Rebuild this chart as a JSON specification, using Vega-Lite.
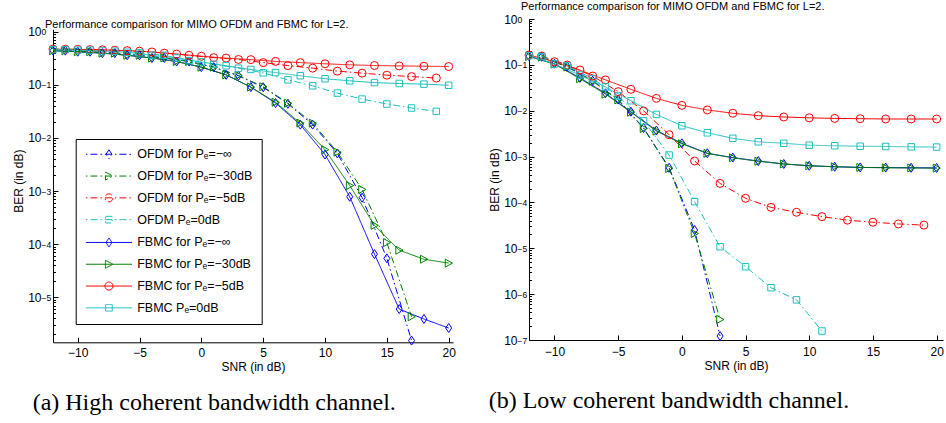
{
  "$schema": "https://vega.github.io/schema/vega-lite/v6.json",
  "background": "white",
  "padding": {"left": 12, "top": 0, "right": 0, "bottom": 0},
  "config": {
    "view": {"stroke": null},
    "font": "Liberation Sans",
    "axis": {"grid": false, "domainColor": "black", "domainWidth": 1, "tickColor": "black", "tickWidth": 1, "labelColor": "black", "titleColor": "black", "labelFont": "Liberation Sans", "titleFont": "Liberation Sans", "labelFontSize": 12, "titleFontSize": 12, "titleFontWeight": "normal", "labelOverlap": false, "labelFlush": false}
  },
  "datasets": {
    "left": [
      {"s":"OFDM for Pₑ=−∞","x":-11,"y":0.44},{"s":"OFDM for Pₑ=−∞","x":-9,"y":0.42},{"s":"OFDM for Pₑ=−∞","x":-7,"y":0.395},{"s":"OFDM for Pₑ=−∞","x":-5,"y":0.36},{"s":"OFDM for Pₑ=−∞","x":-3,"y":0.32},{"s":"OFDM for Pₑ=−∞","x":-1,"y":0.275},{"s":"OFDM for Pₑ=−∞","x":1,"y":0.215},{"s":"OFDM for Pₑ=−∞","x":3,"y":0.148},{"s":"OFDM for Pₑ=−∞","x":5,"y":0.09},{"s":"OFDM for Pₑ=−∞","x":7,"y":0.044},{"s":"OFDM for Pₑ=−∞","x":9,"y":0.0178},{"s":"OFDM for Pₑ=−∞","x":11,"y":0.0051},{"s":"OFDM for Pₑ=−∞","x":13,"y":0.00075},{"s":"OFDM for Pₑ=−∞","x":15,"y":0.000054},{"s":"OFDM for Pₑ=−∞","x":17,"y":0.00000153},
      {"s":"OFDM for Pₑ=−30dB","x":-11,"y":0.44},{"s":"OFDM for Pₑ=−30dB","x":-9,"y":0.42},{"s":"OFDM for Pₑ=−30dB","x":-7,"y":0.395},{"s":"OFDM for Pₑ=−30dB","x":-5,"y":0.36},{"s":"OFDM for Pₑ=−30dB","x":-3,"y":0.32},{"s":"OFDM for Pₑ=−30dB","x":-1,"y":0.275},{"s":"OFDM for Pₑ=−30dB","x":1,"y":0.215},{"s":"OFDM for Pₑ=−30dB","x":3,"y":0.15},{"s":"OFDM for Pₑ=−30dB","x":5,"y":0.092},{"s":"OFDM for Pₑ=−30dB","x":7,"y":0.045},{"s":"OFDM for Pₑ=−30dB","x":9,"y":0.019},{"s":"OFDM for Pₑ=−30dB","x":11,"y":0.0054},{"s":"OFDM for Pₑ=−30dB","x":13,"y":0.00107},{"s":"OFDM for Pₑ=−30dB","x":15,"y":0.000107},{"s":"OFDM for Pₑ=−30dB","x":17,"y":0.0000043},
      {"s":"OFDM for Pₑ=−5dB","x":-11,"y":0.468},{"s":"OFDM for Pₑ=−5dB","x":-9,"y":0.46},{"s":"OFDM for Pₑ=−5dB","x":-7,"y":0.448},{"s":"OFDM for Pₑ=−5dB","x":-5,"y":0.43},{"s":"OFDM for Pₑ=−5dB","x":-3,"y":0.395},{"s":"OFDM for Pₑ=−5dB","x":-1,"y":0.36},{"s":"OFDM for Pₑ=−5dB","x":1,"y":0.325},{"s":"OFDM for Pₑ=−5dB","x":3,"y":0.3},{"s":"OFDM for Pₑ=−5dB","x":5,"y":0.262},{"s":"OFDM for Pₑ=−5dB","x":7,"y":0.23},{"s":"OFDM for Pₑ=−5dB","x":9,"y":0.206},{"s":"OFDM for Pₑ=−5dB","x":11,"y":0.181},{"s":"OFDM for Pₑ=−5dB","x":13,"y":0.166},{"s":"OFDM for Pₑ=−5dB","x":15,"y":0.152},{"s":"OFDM for Pₑ=−5dB","x":17,"y":0.143},{"s":"OFDM for Pₑ=−5dB","x":19,"y":0.134},
      {"s":"OFDM Pₑ=0dB","x":-11,"y":0.46},{"s":"OFDM Pₑ=0dB","x":-9,"y":0.45},{"s":"OFDM Pₑ=0dB","x":-7,"y":0.43},{"s":"OFDM Pₑ=0dB","x":-5,"y":0.4},{"s":"OFDM Pₑ=0dB","x":-3,"y":0.36},{"s":"OFDM Pₑ=0dB","x":-1,"y":0.285},{"s":"OFDM Pₑ=0dB","x":1,"y":0.244},{"s":"OFDM Pₑ=0dB","x":3,"y":0.206},{"s":"OFDM Pₑ=0dB","x":5,"y":0.168},{"s":"OFDM Pₑ=0dB","x":7,"y":0.124},{"s":"OFDM Pₑ=0dB","x":9,"y":0.0958},{"s":"OFDM Pₑ=0dB","x":11,"y":0.0699},{"s":"OFDM Pₑ=0dB","x":13,"y":0.0539},{"s":"OFDM Pₑ=0dB","x":15,"y":0.0435},{"s":"OFDM Pₑ=0dB","x":17,"y":0.0366},{"s":"OFDM Pₑ=0dB","x":19,"y":0.0316},
      {"s":"FBMC for Pₑ=−∞","x":-12,"y":0.44},{"s":"FBMC for Pₑ=−∞","x":-10,"y":0.42},{"s":"FBMC for Pₑ=−∞","x":-8,"y":0.395},{"s":"FBMC for Pₑ=−∞","x":-6,"y":0.36},{"s":"FBMC for Pₑ=−∞","x":-4,"y":0.32},{"s":"FBMC for Pₑ=−∞","x":-2,"y":0.275},{"s":"FBMC for Pₑ=−∞","x":0,"y":0.215},{"s":"FBMC for Pₑ=−∞","x":2,"y":0.154},{"s":"FBMC for Pₑ=−∞","x":4,"y":0.0906},{"s":"FBMC for Pₑ=−∞","x":6,"y":0.0454},{"s":"FBMC for Pₑ=−∞","x":8,"y":0.0178},{"s":"FBMC for Pₑ=−∞","x":10,"y":0.00486},{"s":"FBMC for Pₑ=−∞","x":12,"y":0.00078},{"s":"FBMC for Pₑ=−∞","x":14,"y":0.000065},{"s":"FBMC for Pₑ=−∞","x":16,"y":0.000006},{"s":"FBMC for Pₑ=−∞","x":18,"y":0.0000039},{"s":"FBMC for Pₑ=−∞","x":20,"y":0.00000264},
      {"s":"FBMC for Pₑ=−30dB","x":-12,"y":0.44},{"s":"FBMC for Pₑ=−30dB","x":-10,"y":0.42},{"s":"FBMC for Pₑ=−30dB","x":-8,"y":0.395},{"s":"FBMC for Pₑ=−30dB","x":-6,"y":0.36},{"s":"FBMC for Pₑ=−30dB","x":-4,"y":0.32},{"s":"FBMC for Pₑ=−30dB","x":-2,"y":0.275},{"s":"FBMC for Pₑ=−30dB","x":0,"y":0.215},{"s":"FBMC for Pₑ=−30dB","x":2,"y":0.154},{"s":"FBMC for Pₑ=−30dB","x":4,"y":0.0906},{"s":"FBMC for Pₑ=−30dB","x":6,"y":0.047},{"s":"FBMC for Pₑ=−30dB","x":8,"y":0.019},{"s":"FBMC for Pₑ=−30dB","x":10,"y":0.006},{"s":"FBMC for Pₑ=−30dB","x":12,"y":0.00127},{"s":"FBMC for Pₑ=−30dB","x":14,"y":0.000226},{"s":"FBMC for Pₑ=−30dB","x":16,"y":0.000077},{"s":"FBMC for Pₑ=−30dB","x":18,"y":0.000052},{"s":"FBMC for Pₑ=−30dB","x":20,"y":0.000044},
      {"s":"FBMC for Pₑ=−5dB","x":-12,"y":0.47},{"s":"FBMC for Pₑ=−5dB","x":-10,"y":0.465},{"s":"FBMC for Pₑ=−5dB","x":-8,"y":0.455},{"s":"FBMC for Pₑ=−5dB","x":-6,"y":0.44},{"s":"FBMC for Pₑ=−5dB","x":-4,"y":0.415},{"s":"FBMC for Pₑ=−5dB","x":-2,"y":0.38},{"s":"FBMC for Pₑ=−5dB","x":0,"y":0.345},{"s":"FBMC for Pₑ=−5dB","x":2,"y":0.318},{"s":"FBMC for Pₑ=−5dB","x":4,"y":0.298},{"s":"FBMC for Pₑ=−5dB","x":6,"y":0.276},{"s":"FBMC for Pₑ=−5dB","x":8,"y":0.262},{"s":"FBMC for Pₑ=−5dB","x":10,"y":0.249},{"s":"FBMC for Pₑ=−5dB","x":12,"y":0.238},{"s":"FBMC for Pₑ=−5dB","x":14,"y":0.231},{"s":"FBMC for Pₑ=−5dB","x":16,"y":0.227},{"s":"FBMC for Pₑ=−5dB","x":18,"y":0.224},{"s":"FBMC for Pₑ=−5dB","x":20,"y":0.221},
      {"s":"FBMC Pₑ=0dB","x":-12,"y":0.46},{"s":"FBMC Pₑ=0dB","x":-10,"y":0.45},{"s":"FBMC Pₑ=0dB","x":-8,"y":0.435},{"s":"FBMC Pₑ=0dB","x":-6,"y":0.41},{"s":"FBMC Pₑ=0dB","x":-4,"y":0.36},{"s":"FBMC Pₑ=0dB","x":-2,"y":0.32},{"s":"FBMC Pₑ=0dB","x":0,"y":0.27},{"s":"FBMC Pₑ=0dB","x":2,"y":0.228},{"s":"FBMC Pₑ=0dB","x":4,"y":0.195},{"s":"FBMC Pₑ=0dB","x":6,"y":0.17},{"s":"FBMC Pₑ=0dB","x":8,"y":0.148},{"s":"FBMC Pₑ=0dB","x":10,"y":0.13},{"s":"FBMC Pₑ=0dB","x":12,"y":0.119},{"s":"FBMC Pₑ=0dB","x":14,"y":0.11},{"s":"FBMC Pₑ=0dB","x":16,"y":0.106},{"s":"FBMC Pₑ=0dB","x":18,"y":0.103},{"s":"FBMC Pₑ=0dB","x":20,"y":0.098}
    ],
    "right": [
      {"s":"OFDM for Pₑ=−∞","x":-11,"y":0.15},{"s":"OFDM for Pₑ=−∞","x":-9,"y":0.092},{"s":"OFDM for Pₑ=−∞","x":-7,"y":0.045},{"s":"OFDM for Pₑ=−∞","x":-5,"y":0.0175},{"s":"OFDM for Pₑ=−∞","x":-3,"y":0.0042},{"s":"OFDM for Pₑ=−∞","x":-1,"y":0.00057},{"s":"OFDM for Pₑ=−∞","x":1,"y":0.000025},{"s":"OFDM for Pₑ=−∞","x":3,"y":0.000000122},
      {"s":"OFDM for Pₑ=−30dB","x":-11,"y":0.148},{"s":"OFDM for Pₑ=−30dB","x":-9,"y":0.09},{"s":"OFDM for Pₑ=−30dB","x":-7,"y":0.044},{"s":"OFDM for Pₑ=−30dB","x":-5,"y":0.0172},{"s":"OFDM for Pₑ=−30dB","x":-3,"y":0.0041},{"s":"OFDM for Pₑ=−30dB","x":-1,"y":0.00055},{"s":"OFDM for Pₑ=−30dB","x":1,"y":0.000021},{"s":"OFDM for Pₑ=−30dB","x":3,"y":0.00000028},
      {"s":"OFDM for Pₑ=−5dB","x":-11,"y":0.156},{"s":"OFDM for Pₑ=−5dB","x":-9,"y":0.099},{"s":"OFDM for Pₑ=−5dB","x":-7,"y":0.057},{"s":"OFDM for Pₑ=−5dB","x":-5,"y":0.026},{"s":"OFDM for Pₑ=−5dB","x":-3,"y":0.0099},{"s":"OFDM for Pₑ=−5dB","x":-1,"y":0.003},{"s":"OFDM for Pₑ=−5dB","x":1,"y":0.0008},{"s":"OFDM for Pₑ=−5dB","x":3,"y":0.00026},{"s":"OFDM for Pₑ=−5dB","x":5,"y":0.000123},{"s":"OFDM for Pₑ=−5dB","x":7,"y":0.000078},{"s":"OFDM for Pₑ=−5dB","x":9,"y":0.000061},{"s":"OFDM for Pₑ=−5dB","x":11,"y":0.000049},{"s":"OFDM for Pₑ=−5dB","x":13,"y":0.000041},{"s":"OFDM for Pₑ=−5dB","x":15,"y":0.000037},{"s":"OFDM for Pₑ=−5dB","x":17,"y":0.000034},{"s":"OFDM for Pₑ=−5dB","x":19,"y":0.000032},
      {"s":"OFDM Pₑ=0dB","x":-11,"y":0.152},{"s":"OFDM Pₑ=0dB","x":-9,"y":0.095},{"s":"OFDM Pₑ=0dB","x":-7,"y":0.05},{"s":"OFDM Pₑ=0dB","x":-5,"y":0.021},{"s":"OFDM Pₑ=0dB","x":-3,"y":0.006},{"s":"OFDM Pₑ=0dB","x":-1,"y":0.00108},{"s":"OFDM Pₑ=0dB","x":1,"y":0.000104},{"s":"OFDM Pₑ=0dB","x":3,"y":0.0000108},{"s":"OFDM Pₑ=0dB","x":5,"y":0.00000397},{"s":"OFDM Pₑ=0dB","x":7,"y":0.00000138},{"s":"OFDM Pₑ=0dB","x":9,"y":0.00000075},{"s":"OFDM Pₑ=0dB","x":11,"y":0.000000157},
      {"s":"FBMC for Pₑ=−∞","x":-12,"y":0.155},{"s":"FBMC for Pₑ=−∞","x":-10,"y":0.106},{"s":"FBMC for Pₑ=−∞","x":-8,"y":0.052},{"s":"FBMC for Pₑ=−∞","x":-6,"y":0.024},{"s":"FBMC for Pₑ=−∞","x":-4,"y":0.0095},{"s":"FBMC for Pₑ=−∞","x":-2,"y":0.0037},{"s":"FBMC for Pₑ=−∞","x":0,"y":0.00195},{"s":"FBMC for Pₑ=−∞","x":2,"y":0.00118},{"s":"FBMC for Pₑ=−∞","x":4,"y":0.00095},{"s":"FBMC for Pₑ=−∞","x":6,"y":0.0008},{"s":"FBMC for Pₑ=−∞","x":8,"y":0.00069},{"s":"FBMC for Pₑ=−∞","x":10,"y":0.00063},{"s":"FBMC for Pₑ=−∞","x":12,"y":0.0006},{"s":"FBMC for Pₑ=−∞","x":14,"y":0.00058},{"s":"FBMC for Pₑ=−∞","x":16,"y":0.000575},{"s":"FBMC for Pₑ=−∞","x":18,"y":0.00057},{"s":"FBMC for Pₑ=−∞","x":20,"y":0.000565},
      {"s":"FBMC for Pₑ=−30dB","x":-12,"y":0.152},{"s":"FBMC for Pₑ=−30dB","x":-10,"y":0.104},{"s":"FBMC for Pₑ=−30dB","x":-8,"y":0.05},{"s":"FBMC for Pₑ=−30dB","x":-6,"y":0.023},{"s":"FBMC for Pₑ=−30dB","x":-4,"y":0.0093},{"s":"FBMC for Pₑ=−30dB","x":-2,"y":0.0036},{"s":"FBMC for Pₑ=−30dB","x":0,"y":0.0019},{"s":"FBMC for Pₑ=−30dB","x":2,"y":0.00117},{"s":"FBMC for Pₑ=−30dB","x":4,"y":0.00094},{"s":"FBMC for Pₑ=−30dB","x":6,"y":0.00079},{"s":"FBMC for Pₑ=−30dB","x":8,"y":0.00069},{"s":"FBMC for Pₑ=−30dB","x":10,"y":0.00063},{"s":"FBMC for Pₑ=−30dB","x":12,"y":0.0006},{"s":"FBMC for Pₑ=−30dB","x":14,"y":0.00058},{"s":"FBMC for Pₑ=−30dB","x":16,"y":0.00057},{"s":"FBMC for Pₑ=−30dB","x":18,"y":0.000565},{"s":"FBMC for Pₑ=−30dB","x":20,"y":0.00056},
      {"s":"FBMC for Pₑ=−5dB","x":-12,"y":0.164},{"s":"FBMC for Pₑ=−5dB","x":-10,"y":0.117},{"s":"FBMC for Pₑ=−5dB","x":-8,"y":0.077},{"s":"FBMC for Pₑ=−5dB","x":-6,"y":0.047},{"s":"FBMC for Pₑ=−5dB","x":-4,"y":0.0293},{"s":"FBMC for Pₑ=−5dB","x":-2,"y":0.0186},{"s":"FBMC for Pₑ=−5dB","x":0,"y":0.0131},{"s":"FBMC for Pₑ=−5dB","x":2,"y":0.0104},{"s":"FBMC for Pₑ=−5dB","x":4,"y":0.0088},{"s":"FBMC for Pₑ=−5dB","x":6,"y":0.0078},{"s":"FBMC for Pₑ=−5dB","x":8,"y":0.0073},{"s":"FBMC for Pₑ=−5dB","x":10,"y":0.007},{"s":"FBMC for Pₑ=−5dB","x":12,"y":0.0068},{"s":"FBMC for Pₑ=−5dB","x":14,"y":0.0067},{"s":"FBMC for Pₑ=−5dB","x":16,"y":0.0066},{"s":"FBMC for Pₑ=−5dB","x":18,"y":0.0066},{"s":"FBMC for Pₑ=−5dB","x":20,"y":0.0066},
      {"s":"FBMC Pₑ=0dB","x":-12,"y":0.158},{"s":"FBMC Pₑ=0dB","x":-10,"y":0.104},{"s":"FBMC Pₑ=0dB","x":-8,"y":0.06},{"s":"FBMC Pₑ=0dB","x":-6,"y":0.033},{"s":"FBMC Pₑ=0dB","x":-4,"y":0.0165},{"s":"FBMC Pₑ=0dB","x":-2,"y":0.0083},{"s":"FBMC Pₑ=0dB","x":0,"y":0.0047},{"s":"FBMC Pₑ=0dB","x":2,"y":0.0033},{"s":"FBMC Pₑ=0dB","x":4,"y":0.0025},{"s":"FBMC Pₑ=0dB","x":6,"y":0.0021},{"s":"FBMC Pₑ=0dB","x":8,"y":0.00195},{"s":"FBMC Pₑ=0dB","x":10,"y":0.00177},{"s":"FBMC Pₑ=0dB","x":12,"y":0.00172},{"s":"FBMC Pₑ=0dB","x":14,"y":0.00168},{"s":"FBMC Pₑ=0dB","x":16,"y":0.00166},{"s":"FBMC Pₑ=0dB","x":18,"y":0.00163},{"s":"FBMC Pₑ=0dB","x":20,"y":0.00161}
    ]
  },
  "resolve": {"scale": {"color": "independent", "strokeDash": "independent", "x": "independent", "y": "independent"}, "legend": {"color": "independent", "strokeDash": "independent"}},
  "spacing": 32,
  "hconcat": [
    {
      "title": {"text": "(a) High coherent bandwidth channel.", "orient": "bottom", "anchor": "start", "dx": 20, "font": "Liberation Serif", "fontSize": 24, "fontWeight": "normal", "color": "black", "offset": 19},
      "vconcat": [
        {
          "width": 400, "height": 323.3,
          "title": {"text": "Performance comparison for MIMO OFDM and FBMC for L=2.", "anchor": "start", "frame": "group", "dx": -8, "fontSize": 11, "fontWeight": "normal", "color": "black", "offset": -10.9},
          "data": {"name": "left"},
          "resolve": {"axis": {"y": "independent"}},
          "layer": [
            {
              "mark": {"type": "line", "strokeWidth": 1},
              "encoding": {
                "x": {"field": "x", "type": "quantitative", "scale": {"domain": [-12, 20.35], "nice": false, "zero": false}, "axis": {"values": [-10, -5, 0, 5, 10, 15, 20], "tickSize": -5, "labelPadding": 10, "title": "SNR (in dB)", "titlePadding": 3}},
                "y": {"field": "y", "type": "quantitative", "scale": {"type": "log", "domain": [0.00000142, 1.7345], "nice": false}, "axis": {"orient": "left", "values": [0.00001, 0.0001, 0.001, 0.01, 0.1, 1], "tickSize": -5, "domainDash": [313, 40], "labelExpr": "'10'", "labelAlign": "right", "labelPadding": 17, "labelBaseline": "middle", "labelDy": 1, "title": "BER (in dB)", "titlePadding": 2}},
                "color": {"field": "s", "type": "nominal", "scale": {"domain": ["OFDM for Pₑ=−∞", "OFDM for Pₑ=−30dB", "OFDM for Pₑ=−5dB", "OFDM Pₑ=0dB", "FBMC for Pₑ=−∞", "FBMC for Pₑ=−30dB", "FBMC for Pₑ=−5dB", "FBMC Pₑ=0dB"], "range": ["#0000ff", "#008000", "#ff0000", "#1fbfbf", "#0000ff", "#008000", "#ff0000", "#1fbfbf"]},
                  "legend": {"orient": "none", "legendX": 22.7, "legendY": 120, "title": null, "strokeColor": "black", "fillColor": "white", "padding": 9, "labelFont": "Liberation Sans", "labelFontSize": 12.5, "labelColor": "black", "labelLimit": 300, "labelExpr": "datum.label + '                  '", "symbolSize": 100, "symbolOffset": 18, "labelOffset": 22, "rowPadding": 8.8, "symbolStrokeWidth": 1,
                    "encode": {"symbols": {"update": {"shape": {"signal": "['M-4.6,0L-4.3,0M-3.7,0L-2.3,0M-1.7,0L-1.4,0M-0.8,0L0.6,0M1.2,0L1.5,0M2.1,0L3.5,0M4.1,0L4.4,0M0,-0.9L0.6,0L0,0.9L-0.6,0Z','M-4.6,0L-4.3,0M-3.7,0L-2.3,0M-1.7,0L-1.4,0M-0.8,0L0.6,0M1.2,0L1.5,0M2.1,0L3.5,0M4.1,0L4.4,0M-0.7,-0.8L0.8,0L-0.7,0.8Z','M-4.6,0L-4.3,0M-3.7,0L-2.3,0M-1.7,0L-1.4,0M-0.8,0L0.6,0M1.2,0L1.5,0M2.1,0L3.5,0M4.1,0L4.4,0M0.8,0A0.8,0.8,0,1,1,-0.8,0A0.8,0.8,0,1,1,0.8,0Z','M-4.6,0L-4.3,0M-3.7,0L-2.3,0M-1.7,0L-1.4,0M-0.8,0L0.6,0M1.2,0L1.5,0M2.1,0L3.5,0M4.1,0L4.4,0M-0.66,-0.66L0.66,-0.66L0.66,0.66L-0.66,0.66Z','M-4.6,0L4.6,0M0,-0.9L0.6,0L0,0.9L-0.6,0Z','M-4.6,0L4.6,0M-0.7,-0.8L0.8,0L-0.7,0.8Z','M-4.6,0L4.6,0M0.8,0A0.8,0.8,0,1,1,-0.8,0A0.8,0.8,0,1,1,0.8,0Z','M-4.6,0L4.6,0M-0.66,-0.66L0.66,-0.66L0.66,0.66L-0.66,0.66Z'][datum.index]"}, "fill": {"value": "transparent"}, "strokeDash": {"value": []}, "strokeWidth": {"value": 1}, "opacity": {"value": 1}}}}}},
                "strokeDash": {"field": "s", "type": "nominal", "scale": {"domain": ["OFDM for Pₑ=−∞", "OFDM for Pₑ=−30dB", "OFDM for Pₑ=−5dB", "OFDM Pₑ=0dB", "FBMC for Pₑ=−∞", "FBMC for Pₑ=−30dB", "FBMC for Pₑ=−5dB", "FBMC Pₑ=0dB"], "range": [[7, 3, 1.5, 3], [7, 3, 1.5, 3], [7, 3, 1.5, 3], [7, 3, 1.5, 3], [1, 0], [1, 0], [1, 0], [1, 0]]}, "legend": null}
              }
            },
            {
              "transform": [{"filter": {"field": "s", "oneOf": ["OFDM for Pₑ=−∞", "FBMC for Pₑ=−∞"]}}],
              "mark": {"type": "point", "shape": "M0,-1.125L0.75,0L0,1.125L-0.75,0Z", "filled": false, "size": 64, "strokeWidth": 1, "opacity": 1},
              "encoding": {
                "x": {"field": "x", "type": "quantitative"},
                "y": {"field": "y", "type": "quantitative", "axis": {"orient": "left", "values": [0.000002,0.000003,0.000004,0.000005,0.000006,0.000007,0.000008,0.000009,0.00001,0.00002,0.00003,0.00004,0.00005,0.00006,0.00007,0.00008,0.00009,0.0001,0.0002,0.0003,0.0004,0.0005,0.0006,0.0007,0.0008,0.0009,0.001,0.002,0.003,0.004,0.005,0.006,0.007,0.008,0.009,0.01,0.02,0.03,0.04,0.05,0.06,0.07,0.08,0.09,0.1,0.2,0.3,0.4,0.5,0.6,0.7,0.8,0.9,1], "tickSize": -2.5, "domain": false, "title": null, "labelFontSize": 8.5, "labelAlign": "left", "labelPadding": 14.5, "labelBaseline": "middle", "labelDy": -4, "labelExpr": "abs(log(datum.value)/LN10 - round(log(datum.value)/LN10)) < 0.01 ? (round(log(datum.value)/LN10) == 0 ? '0' : '−' + abs(round(log(datum.value)/LN10))) : ''"}},
                "color": {"field": "s", "type": "nominal", "legend": null}
              }
            },
            {
              "transform": [{"filter": {"field": "s", "oneOf": ["OFDM for Pₑ=−30dB", "FBMC for Pₑ=−30dB"]}}],
              "mark": {"type": "point", "shape": "M-0.85,-1L0.95,0L-0.85,1Z", "filled": false, "size": 64, "strokeWidth": 1, "opacity": 1},
              "encoding": {
                "x": {"field": "x", "type": "quantitative"},
                "y": {"field": "y", "type": "quantitative", "axis": null},
                "color": {"field": "s", "type": "nominal", "legend": null}
              }
            },
            {
              "transform": [{"filter": {"field": "s", "oneOf": ["OFDM for Pₑ=−5dB", "FBMC for Pₑ=−5dB"]}}],
              "mark": {"type": "point", "shape": "circle", "filled": false, "size": 64, "strokeWidth": 1, "opacity": 1},
              "encoding": {
                "x": {"field": "x", "type": "quantitative"},
                "y": {"field": "y", "type": "quantitative", "axis": null},
                "color": {"field": "s", "type": "nominal", "legend": null}
              }
            },
            {
              "transform": [{"filter": {"field": "s", "oneOf": ["OFDM Pₑ=0dB", "FBMC Pₑ=0dB"]}}],
              "mark": {"type": "point", "shape": "M-0.81,-0.81L0.81,-0.81L0.81,0.81L-0.81,0.81Z", "filled": false, "size": 64, "strokeWidth": 1, "opacity": 1},
              "encoding": {
                "x": {"field": "x", "type": "quantitative"},
                "y": {"field": "y", "type": "quantitative", "axis": null},
                "color": {"field": "s", "type": "nominal", "legend": null}
              }
            }
          ]
        }
      ]
    },
    {
      "title": {"text": "(b) Low coherent bandwidth channel.", "orient": "bottom", "anchor": "start", "dx": 0, "font": "Liberation Serif", "fontSize": 24, "fontWeight": "normal", "color": "black", "offset": 18},
      "vconcat": [
        {
          "width": 414, "height": 321,
          "title": {"text": "Performance comparison for MIMO OFDM and FBMC for L=2.", "anchor": "start", "frame": "group", "dx": -8, "fontSize": 11, "fontWeight": "normal", "color": "black", "offset": 1.5},
          "data": {"name": "right"},
          "resolve": {"axis": {"y": "independent"}},
          "layer": [
            {
              "mark": {"type": "line", "strokeWidth": 1},
              "encoding": {
                "x": {"field": "x", "type": "quantitative", "scale": {"domain": [-12, 20.5], "nice": false, "zero": false}, "axis": {"values": [-10, -5, 0, 5, 10, 15, 20], "tickSize": -5, "labelPadding": 11, "title": "SNR (in dB)", "titlePadding": 3}},
                "y": {"field": "y", "type": "quantitative", "scale": {"type": "log", "domain": [0.0000001, 1], "nice": false}, "axis": {"orient": "left", "values": [0.0000001, 0.000001, 0.00001, 0.0001, 0.001, 0.01, 0.1, 1], "tickSize": -5, "labelExpr": "'10'", "labelAlign": "right", "labelPadding": 17, "labelBaseline": "middle", "labelDy": 1, "title": "BER (in dB)", "titlePadding": 2}},
                "color": {"field": "s", "type": "nominal", "scale": {"domain": ["OFDM for Pₑ=−∞", "OFDM for Pₑ=−30dB", "OFDM for Pₑ=−5dB", "OFDM Pₑ=0dB", "FBMC for Pₑ=−∞", "FBMC for Pₑ=−30dB", "FBMC for Pₑ=−5dB", "FBMC Pₑ=0dB"], "range": ["#0000ff", "#008000", "#ff0000", "#1fbfbf", "#0000ff", "#008000", "#ff0000", "#1fbfbf"]}, "legend": null},
                "strokeDash": {"field": "s", "type": "nominal", "scale": {"domain": ["OFDM for Pₑ=−∞", "OFDM for Pₑ=−30dB", "OFDM for Pₑ=−5dB", "OFDM Pₑ=0dB", "FBMC for Pₑ=−∞", "FBMC for Pₑ=−30dB", "FBMC for Pₑ=−5dB", "FBMC Pₑ=0dB"], "range": [[7, 3, 1.5, 3], [7, 3, 1.5, 3], [7, 3, 1.5, 3], [7, 3, 1.5, 3], [1, 0], [1, 0], [1, 0], [1, 0]]}, "legend": null}
              }
            },
            {
              "transform": [{"filter": {"field": "s", "oneOf": ["OFDM for Pₑ=−∞", "FBMC for Pₑ=−∞"]}}],
              "mark": {"type": "point", "shape": "M0,-1.125L0.75,0L0,1.125L-0.75,0Z", "filled": false, "size": 64, "strokeWidth": 1, "opacity": 1},
              "encoding": {
                "x": {"field": "x", "type": "quantitative"},
                "y": {"field": "y", "type": "quantitative", "axis": {"orient": "left", "values": [0.0000002,0.0000003,0.0000004,0.0000005,0.0000006,0.0000007,0.0000008,0.0000009,0.000001,0.000002,0.000003,0.000004,0.000005,0.000006,0.000007,0.000008,0.000009,0.00001,0.00002,0.00003,0.00004,0.00005,0.00006,0.00007,0.00008,0.00009,0.0001,0.0002,0.0003,0.0004,0.0005,0.0006,0.0007,0.0008,0.0009,0.001,0.002,0.003,0.004,0.005,0.006,0.007,0.008,0.009,0.01,0.02,0.03,0.04,0.05,0.06,0.07,0.08,0.09,0.1,0.2,0.3,0.4,0.5,0.6,0.7,0.8,0.9,1,0.0000001], "tickSize": -2.5, "domain": false, "title": null, "labelFontSize": 8.5, "labelAlign": "left", "labelPadding": 14.5, "labelBaseline": "middle", "labelDy": -4, "labelExpr": "abs(log(datum.value)/LN10 - round(log(datum.value)/LN10)) < 0.01 ? (round(log(datum.value)/LN10) == 0 ? '0' : '−' + abs(round(log(datum.value)/LN10))) : ''"}},
                "color": {"field": "s", "type": "nominal", "legend": null}
              }
            },
            {
              "transform": [{"filter": {"field": "s", "oneOf": ["OFDM for Pₑ=−30dB", "FBMC for Pₑ=−30dB"]}}],
              "mark": {"type": "point", "shape": "M-0.85,-1L0.95,0L-0.85,1Z", "filled": false, "size": 64, "strokeWidth": 1, "opacity": 1},
              "encoding": {
                "x": {"field": "x", "type": "quantitative"},
                "y": {"field": "y", "type": "quantitative", "axis": null},
                "color": {"field": "s", "type": "nominal", "legend": null}
              }
            },
            {
              "transform": [{"filter": {"field": "s", "oneOf": ["OFDM for Pₑ=−5dB", "FBMC for Pₑ=−5dB"]}}],
              "mark": {"type": "point", "shape": "circle", "filled": false, "size": 64, "strokeWidth": 1, "opacity": 1},
              "encoding": {
                "x": {"field": "x", "type": "quantitative"},
                "y": {"field": "y", "type": "quantitative", "axis": null},
                "color": {"field": "s", "type": "nominal", "legend": null}
              }
            },
            {
              "transform": [{"filter": {"field": "s", "oneOf": ["OFDM Pₑ=0dB", "FBMC Pₑ=0dB"]}}],
              "mark": {"type": "point", "shape": "M-0.81,-0.81L0.81,-0.81L0.81,0.81L-0.81,0.81Z", "filled": false, "size": 64, "strokeWidth": 1, "opacity": 1},
              "encoding": {
                "x": {"field": "x", "type": "quantitative"},
                "y": {"field": "y", "type": "quantitative", "axis": null},
                "color": {"field": "s", "type": "nominal", "legend": null}
              }
            }
          ]
        }
      ]
    }
  ]
}
